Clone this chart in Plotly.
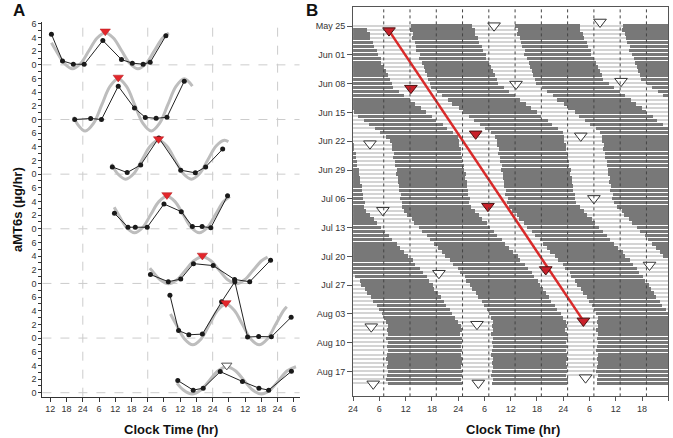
import plotly.graph_objects as go

# ---------- Panel A: aMT6s profiles (hours from midnight of first day) ----------
a1_t = [12.4, 16.5, 20.5, 24.5, 31.4, 38.3, 42.3, 46.3, 48.9, 54.7]
a1_v = [4.5, 0.58, 0.1, 0.08, 3.57, 0.77, 0.25, 0.1, 0.38, 4.25]
a2_t = [21.0, 26.9, 30.9, 37.1, 43.1, 47.1, 51.1, 55.1, 61.5]
a2_v = [0.0, 0.15, 0.0, 4.88, 1.67, 0.31, 0.17, 0.33, 5.6]
a3_t = [34.9, 40.4, 45.4, 52.1, 60.2, 65.6, 69.4, 75.7]
a3_v = [1.06, 0.23, 1.35, 5.31, 0.58, 0.19, 1.06, 3.67]
a4_t = [35.7, 40.7, 43.4, 47.8, 54.0, 60.4, 64.5, 68.1, 71.3, 77.5]
a4_v = [2.26, 0.23, 0.23, 0.23, 3.63, 2.51, 0.33, 0.33, 0.15, 4.83]
a5_t = [49.0, 55.6, 60.2, 64.9, 72.2, 80.1, 85.7, 93.4]
a5_v = [1.31, 0.25, 0.64, 2.9, 2.61, 0.58, 0.25, 3.4]
a6_t = [56.2, 59.4, 63.2, 68.2, 75.3, 80.2, 84.9, 89.0, 93.7, 101.0]
a6_v = [6.28, 1.1, 0.48, 0.58, 5.31, 8.25, 0.15, 0.23, 0.19, 3.05]
a7_t = [59.1, 64.8, 68.5, 74.8, 83.0, 89.1, 92.7, 101.1]
a7_v = [1.79, 0.38, 0.67, 3.09, 1.64, 0.67, 0.38, 3.14]

# grey cosinor fits
f1_t = [12.4, 14.15, 17.2, 20.2, 23.2, 26.25, 29.3, 32.3, 35.3, 38.35, 41.4, 44.4, 47.4, 50.45, 53.5, 55.8]
f1_v = [3.23, 2.07, 0.2, -0.58, 0.2, 2.07, 3.94, 4.72, 3.94, 2.07, 0.2, -0.58, 0.2, 2.07, 3.94, 4.68]
f2_t = [20.6, 21.85, 24.9, 27.95, 31.0, 34.05, 37.1, 40.15, 43.2, 46.25, 49.3, 52.35, 55.4, 58.45, 61.5, 64.5]
f2_v = [0.41, -0.58, -1.7, -0.58, 2.13, 4.84, 5.96, 4.84, 2.13, -0.58, -1.7, -0.58, 2.13, 4.84, 5.96, 4.88]
f3_t = [34.6, 36.8, 39.84, 42.88, 45.92, 48.96, 52.0, 55.04, 58.08, 61.12, 64.16, 67.2, 70.24, 73.28, 76.32, 77.8]
f3_v = [1.5, 0.1, -0.73, 0.1, 2.11, 4.12, 4.95, 4.12, 2.11, 0.1, -0.73, 0.1, 2.11, 4.12, 4.95, 4.74]
f4_t = [35.6, 37.16, 40.15, 43.14, 46.13, 49.12, 52.11, 55.1, 58.09, 61.08, 64.07, 67.06, 70.05, 73.04, 76.03, 78.4]
f4_v = [3.15, 2.09, 0.2, -0.58, 0.2, 2.09, 3.98, 4.76, 3.98, 2.09, 0.2, -0.58, 0.2, 2.09, 3.98, 4.73]
f5_t = [48.8, 49.45, 52.58, 55.7, 58.83, 61.95, 65.08, 68.2, 71.33, 74.45, 77.58, 80.7, 83.83, 86.95, 90.08, 92.3]
f5_v = [2.25, 1.93, 0.54, -0.04, 0.54, 1.93, 3.32, 3.9, 3.32, 1.93, 0.54, -0.04, 0.54, 1.93, 3.32, 3.85]
f6_t = [56.4, 58.54, 61.6, 64.66, 67.72, 70.78, 73.84, 76.9, 79.96, 83.02, 86.08, 89.14, 92.2, 95.26, 98.32, 99.4]
f6_v = [3.53, 1.98, -0.12, -0.99, -0.12, 1.98, 4.08, 4.95, 4.08, 1.98, -0.12, -0.99, -0.12, 1.98, 4.08, 4.58]
f7_t = [58.8, 61.2, 64.4, 67.6, 70.8, 74.0, 77.2, 80.4, 83.6, 86.8, 90.0, 93.2, 96.4, 99.6, 102.8]
f7_v = [1.41, 0.39, -0.2, 0.39, 1.8, 3.21, 3.8, 3.21, 1.8, 0.39, -0.2, 0.39, 1.8, 3.21, 3.8]

# acrophase markers (last one open)
peak_t = [32.3, 37.1, 52.0, 55.1, 68.2, 76.9, 77.2]
peak_v = [4.72, 5.96, 4.95, 4.76, 3.9, 4.95, 3.8]

a_ticks = [12, 18, 24, 6] * 4

# ---------- Panel B: actogram, day 0 = May 25, hours from that day's midnight ----------
act_on = [13.3, 13.1, 13.6, 13.5, 14.1, 14.3, 14.5, 15.2, 15.1, 15.8,
          16.2, 16.4, 16.9, 17.1, 17.6, 17.8, 19.2, 20.3, 21.7, 22.7,
          24.2, 25.2, 26.6, 27.6, 29.1, 30.1, 31.6, 32.5, 32.9, 32.8,
          33.3, 33.2, 33.6, 33.6, 34.0, 33.9, 34.3, 34.2, 34.6, 34.5,
          34.9, 34.8, 35.3, 35.2, 35.6, 36.3, 37.4, 38.0, 39.1, 39.8,
          40.9, 41.6, 42.6, 43.3, 44.4, 45.1, 46.2, 46.8, 47.9, 48.5,
          49.5, 49.9, 50.8, 51.2, 52.1, 52.6, 53.4, 53.9, 54.7, 55.0,
          55.6, 55.9, 55.7, 56.0, 55.6, 55.9, 55.7, 56.0, 55.8, 55.6,
          55.9, 55.7, 56.0, 55.8, 55.6, 55.9, 55.8, 55.7]
act_off = [27.2, 27.8, 27.9, 28.6, 28.7, 29.4, 29.6, 30.3, 30.4, 31.0,
           31.6, 32.0, 32.4, 32.9, 33.1, 34.5, 35.6, 37.0, 38.1, 39.5,
           40.6, 42.0, 43.0, 44.5, 45.5, 46.9, 48.0, 48.3, 48.3, 48.7,
           48.7, 49.0, 49.0, 49.4, 49.3, 49.7, 49.6, 50.0, 50.0, 50.3,
           50.3, 50.7, 50.6, 51.0, 51.8, 52.8, 53.4, 54.5, 55.2, 56.3,
           57.0, 58.0, 58.7, 59.7, 60.5, 61.6, 62.2, 63.3, 64.0, 64.9,
           65.3, 66.2, 66.6, 67.5, 68.0, 68.8, 69.3, 70.1, 70.6, 71.4,
           72.0, 72.6, 72.9, 72.5, 72.8, 73.0, 72.6, 72.9, 72.7, 72.8,
           73.0, 72.6, 72.9, 72.8, 72.7, 73.0, 72.8, 72.7]

date_ticks = ["May 25", "Jun 01", "Jun 08", "Jun 15", "Jun 22", "Jun 29", "Jul 06",
              "Jul 13", "Jul 20", "Jul 27", "Aug 03", "Aug 10", "Aug 17"]
b_ticks = ["24", "6", "12", "18"] * 3 + ["24"]
dot_lines = [7, 13, 19, 25, 31, 37, 43, 49, 55, 61, 67]

red_hour = [8.2, 13.2, 28.0, 30.8, 44.0, 52.6]
red_day = [1.1, 15.1, 26.2, 43.8, 59.2, 71.7]
open_hour = [32.2, 56.4, 37.2, 61.2, 3.85, 52.0, 6.8, 55.0, 19.6, 67.7, 4.15, 28.3, 4.6, 28.6, 53.1]
open_day = [-0.1, -1.0, 14.1, 13.4, 28.6, 26.7, 44.8, 41.9, 60.1, 58.1, 73.1, 72.5, 87.0, 86.8, 85.5]

FONT = "Liberation Sans Narrow, Liberation Sans, Arial, sans-serif"
fig = go.Figure()

# ---- Panel A ----
rows = [(a1_t, a1_v, f1_t, f1_v), (a2_t, a2_v, f2_t, f2_v), (a3_t, a3_v, f3_t, f3_v),
        (a4_t, a4_v, f4_t, f4_v), (a5_t, a5_v, f5_t, f5_v), (a6_t, a6_v, f6_t, f6_v),
        (a7_t, a7_v, f7_t, f7_v)]
offsets = [(6 - i) * 8 for i in range(7)]

for off in offsets:
    fig.add_shape(type="line", xref="paper", yref="y", x0=0.056, x1=0.4409, y0=off, y1=off,
                  line=dict(color="#cccccc", width=1, dash="dash"), layer="below")
for h in [24, 48, 72, 96]:
    fig.add_shape(type="line", xref="x", yref="paper", x0=h, x1=h, y0=0.0929, y1=0.9566,
                  line=dict(color="#cccccc", width=1, dash="dash"), layer="below")

for (t, v, ft, fv), off in zip(rows, offsets):
    fig.add_trace(go.Scatter(x=ft, y=[y + off for y in fv], mode="lines",
                             line=dict(color="#bdbdbd", width=3, shape="spline"),
                             hoverinfo="skip"))
for (t, v, ft, fv), off in zip(rows, offsets):
    fig.add_trace(go.Scatter(x=t, y=[y + off for y in v], mode="lines+markers",
                             line=dict(color="#222222", width=1),
                             marker=dict(color="#1a1a1a", size=5)))

fig.add_trace(go.Scatter(x=peak_t[:6], y=[v + o + 0.2 for v, o in zip(peak_v[:6], offsets[:6])],
                         mode="markers",
                         marker=dict(symbol="triangle-down", size=9, color="#e3262b",
                                     line=dict(color="#b01a1f", width=0.5))))
fig.add_trace(go.Scatter(x=peak_t[6:], y=[peak_v[6] + offsets[6] + 0.2], mode="markers",
                         marker=dict(symbol="triangle-down", size=9, color="white",
                                     line=dict(color="#555555", width=1))))

# ---- Panel B (triple plotted: each row shows day d, d+1, d+2) ----
n_days = len(act_on)
bg_row, bg_base = [], []
on_row, on_base, on_len = [], [], []
for d in range(n_days):
    for k in range(3):
        if d - k >= 0:
            bg_row.append(d - k)
            bg_base.append(24 * k)
    for k in range(-2, 3):
        r = d - k
        if r < 0 or r >= n_days:
            continue
        on_row.append(r)
        on_base.append(act_on[d] + 24 * k)
        on_len.append(act_off[d] - act_on[d])

fig.add_trace(go.Bar(orientation="h", y=bg_row, x=[24] * len(bg_row), base=bg_base, width=0.35,
                     marker=dict(color="#d4d4d4", line=dict(width=0)),
                     xaxis="x2", yaxis="y2", hoverinfo="skip"))
fig.add_trace(go.Bar(orientation="h", y=on_row, x=on_len, base=on_base, width=0.85,
                     marker=dict(color="#787878", line=dict(width=0)),
                     xaxis="x2", yaxis="y2"))

for h in dot_lines:
    fig.add_shape(type="line", xref="x2", yref="paper", x0=h, x1=h, y0=0.0936, y1=0.9902,
                  line=dict(color="#444444", width=1, dash="dot"))

fig.add_trace(go.Scatter(x=[red_hour[0], red_hour[-1]], y=[red_day[0], red_day[-1]],
                         mode="lines", line=dict(color="#d92a2a", width=2.5),
                         xaxis="x2", yaxis="y2"))
fig.add_trace(go.Scatter(x=red_hour, y=red_day, mode="markers",
                         marker=dict(symbol="triangle-down", size=11, color="#c8202a",
                                     line=dict(color="#4a1010", width=1)),
                         xaxis="x2", yaxis="y2"))
fig.add_trace(go.Scatter(x=open_hour, y=open_day, mode="markers",
                         marker=dict(symbol="triangle-down", size=11, color="white",
                                     line=dict(color="#333333", width=1)),
                         xaxis="x2", yaxis="y2"))

# ---- layout ----
a_yvals, a_ytext = [], []
for i in range(55):
    a_yvals.append(i)
    a_ytext.append(str(i % 8) if (i % 8) in (0, 2, 4, 6) else "")

fig.update_layout(
    width=673, height=438,
    margin=dict(l=0, r=0, t=0, b=0),
    plot_bgcolor="white", paper_bgcolor="white",
    showlegend=False, barmode="overlay", bargap=0,
    font=dict(family=FONT, size=9, color="#333333"),
    xaxis=dict(domain=[0.056, 0.4409], range=[9.07, 104.1],
               tickvals=list(range(12, 103, 6)), ticktext=a_ticks,
               showline=True, linecolor="#333333", ticks="outside", ticklen=4,
               tickcolor="#333333", showgrid=False, zeroline=False),
    yaxis=dict(domain=[0.0929, 0.9566], range=[-0.58, 54.3],
               tickvals=a_yvals, ticktext=a_ytext,
               showline=True, linecolor="#333333", ticks="outside", ticklen=3,
               tickcolor="#333333", showgrid=False, zeroline=False),
    xaxis2=dict(domain=[0.5211, 0.993], range=[0, 72], anchor="y2",
                tickvals=list(range(0, 73, 6)), ticktext=b_ticks,
                showline=True, mirror=True, linecolor="#555555", ticks="outside", ticklen=4,
                tickcolor="#555555", showgrid=False, zeroline=False),
    yaxis2=dict(domain=[0.0936, 0.9902], range=[90.05, -4.58], anchor="x2",
                tickvals=list(range(0, 85, 7)), ticktext=date_ticks,
                showline=True, mirror=True, linecolor="#555555", ticks="outside", ticklen=5,
                tickcolor="#555555", showgrid=False, zeroline=False),
)

ann = [
    dict(text="<b>A</b>", x=14 / 673, y=1 - 8 / 438, size=17),
    dict(text="<b>B</b>", x=309 / 673, y=1 - 8 / 438, size=17),
    dict(text="<b>Clock Time (hr)</b>", x=167 / 673, y=1 - 430 / 438, size=13),
    dict(text="<b>Clock Time (hr)</b>", x=512 / 673, y=1 - 430 / 438, size=13),
]
for a in ann:
    fig.add_annotation(text=a["text"], x=a["x"], y=a["y"], xref="paper", yref="paper",
                       showarrow=False, xanchor="center", yanchor="middle",
                       font=dict(family="Liberation Sans, Arial", size=a["size"], color="#111111"))
fig.add_annotation(text="<b>aMT6s (µg/hr)</b>", x=12 / 673, y=1 - 208 / 438, xref="paper", yref="paper",
                   showarrow=False, textangle=-90, xanchor="center", yanchor="middle",
                   font=dict(family="Liberation Sans, Arial", size=13, color="#111111"))

fig.write_html("out.html", config={"displayModeBar": False},
               post_script="document.body.style.margin='0px';")
